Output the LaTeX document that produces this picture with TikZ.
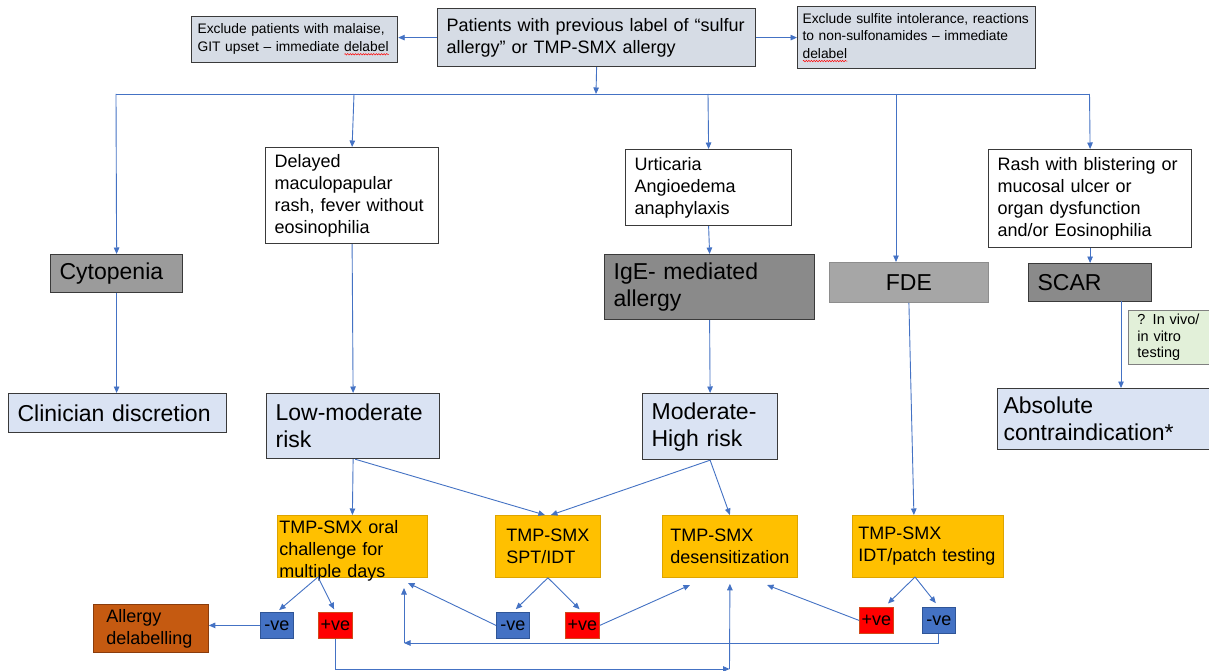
\documentclass[tikz,border=0pt]{standalone}
\usepackage{fontspec}
\setmainfont{Liberation Sans}
\usetikzlibrary{arrows.meta,decorations.pathmorphing}

\definecolor{arrblue}{HTML}{4472C4}
\definecolor{topfill}{HTML}{D6DCE5}
\definecolor{ltblue}{HTML}{DAE3F3}
\definecolor{boxline}{HTML}{3A3A3A}
\definecolor{cytofill}{HTML}{9B9B9B}
\definecolor{darkfill}{HTML}{8A8A8A}
\definecolor{fdefill}{HTML}{A6A6A6}
\definecolor{orfill}{HTML}{FFC000}
\definecolor{orline}{HTML}{DDA400}
\definecolor{negfill}{HTML}{4472C4}
\definecolor{negline}{HTML}{2F5597}
\definecolor{posfill}{HTML}{FF0000}
\definecolor{posline}{HTML}{D04A1A}
\definecolor{delfill}{HTML}{C55A11}
\definecolor{delline}{HTML}{8A3C0C}
\definecolor{greenfill}{HTML}{E2F0D9}

\newcommand\fsSmall{\fontsize{13.8}{17.5}\selectfont}
\newcommand\fsMed{\fontsize{18}{22}\selectfont}
\newcommand\fsBig{\fontsize{23}{27}\selectfont}
\newcommand\fsGreen{\fontsize{14.5}{16.7}\selectfont}

% red wavy underline (spell check mark)
\newsavebox\spbox
\newdimen\spwd
\newcommand\spellerr[1]{\leavevmode\sbox\spbox{#1}\spwd=\wd\spbox
  \rlap{\tikz[baseline=0pt]\draw[red,line width=0.5pt,decorate,decoration={snake,amplitude=0.7pt,segment length=2.6pt}] (0pt,-2.8pt) -- (\spwd,-2.8pt);}\usebox\spbox}

\begin{document}
\begin{tikzpicture}[x=1pt,y=-1pt]

    \tikzset{box/.style={draw=boxline,line width=1.2pt,anchor=north west,align=left,inner xsep=9pt,inner ysep=2pt,font=\fsMed},
             orbox/.style={box,draw=orline,line width=0.8pt,fill=orfill},
             res/.style={anchor=north west,inner sep=0pt,minimum width=33pt,minimum height=26pt,font=\fsMed,line width=0.8pt},
             arr/.style={-{Triangle[length=6.5pt,width=5.5pt]}}}

    \fill[white] (0,0) rectangle (1209,671);
    \useasboundingbox (0,0) rectangle (1209,671);
    \clip (0,0) rectangle (1209,671);

    \node[box,fill=topfill,text width=300pt,minimum height=58pt] (top) at (437,8) {Patients with previous label of “sulfur\\allergy” or TMP-SMX allergy};
    \node[box,fill=topfill,font=\fsSmall,text width=194pt,inner xsep=6pt,minimum height=46pt] (exL) at (191,16) {Exclude patients with malaise,\\GIT upset – immediate \spellerr{delabel}};
    \node[box,fill=topfill,font=\fsSmall,text width=228pt,inner xsep=5pt,minimum height=62pt] (exR) at (797,6) {Exclude sulfite intolerance, reactions\\to non-sulfonamides – immediate\\\spellerr{delabel}};

    \node[box,fill=cytofill,font=\fsBig,text width=114pt,minimum height=38pt] (cyto) at (50,254) {Cytopenia};
    \node[box,fill=ltblue,font=\fsBig,text width=200pt,minimum height=39pt] (clin) at (8,393) {Clinician discretion};

    \node[box,fill=white,text width=155pt,minimum height=96pt] (delay) at (265,147) {Delayed\\maculopapular\\rash, fever without\\eosinophilia};
    \node[box,fill=ltblue,font=\fsBig,text width=155pt,minimum height=65pt] (low) at (266,393) {Low-moderate\\risk};

    \node[box,fill=white,text width=148pt,minimum height=76pt] (urt) at (625,149) {Urticaria\\Angioedema\\anaphylaxis};
    \node[box,fill=darkfill,font=\fsBig,text width=192pt,minimum height=65pt] (ige) at (604,254) {IgE- mediated\\allergy};
    \node[box,fill=ltblue,font=\fsBig,text width=117pt,minimum height=66pt] (mod) at (642,393) {Moderate-\\High risk};

    \node[box,fill=fdefill,draw=fdefill!85!black,line width=0.8pt,font=\fsBig,align=center,text width=141pt,minimum height=40pt] (fde) at (829,262) {FDE};

    \node[box,fill=white,text width=185pt,minimum height=98pt] (rash) at (988,149) {Rash with blistering or\\mucosal ulcer or\\organ dysfunction\\and/or Eosinophilia};
    \node[box,fill=darkfill,font=\fsBig,text width=105pt,minimum height=38pt] (scar) at (1028,263) {SCAR};
    \node[box,fill=greenfill,draw=gray,line width=0.8pt,font=\fsGreen,text width=70pt,minimum height=54pt] (vitro) at (1128,310) {? In vivo/\\in vitro\\testing};
    \node[box,fill=ltblue,font=\fsBig,text width=212pt,inner xsep=6pt,minimum height=61pt] (abs) at (997,388) {Absolute\\contraindication*};

    % tests
    \node[orbox,text width=146pt,inner xsep=2pt,inner ysep=3pt,text height=15pt,text depth=41pt] (oral) at (277,515) {TMP-SMX oral\\challenge for\\multiple days};
    \node[orbox,text width=83pt,inner xsep=11pt,minimum height=62pt] (spt) at (495,515) {TMP-SMX\\SPT/IDT};
    \node[orbox,text width=119pt,inner xsep=8pt,minimum height=62pt] (des) at (662,515) {TMP-SMX\\desensitization};
    \node[orbox,text width=139pt,inner xsep=6pt,minimum height=62pt] (idt) at (852,515) {TMP-SMX\\IDT/patch testing};

    % results
    \node[res,fill=negfill,draw=negline] (ng1) at (260,612) {-ve};
    \node[res,fill=posfill,draw=posline,minimum width=34pt] (ps1) at (318,612) {+ve};
    \node[res,fill=negfill,draw=negline] (ng2) at (496,612) {-ve};
    \node[res,fill=posfill,draw=posline,minimum width=34pt] (ps2) at (565,612) {+ve};
    \node[res,fill=posfill,draw=posline,minimum width=34pt] (ps3) at (859,607) {+ve};
    \node[res,fill=negfill,draw=negline] (ng3) at (922,607) {-ve};
    \node[box,fill=delfill,draw=delline,line width=0.8pt,text width=89pt,inner xsep=13pt,minimum height=48pt] (delab) at (93,604) {Allergy\\delabelling};

    % puntos auxiliares
    \coordinate (hub) at (596,94);
    \coordinate (hl) at (116,94);
    \coordinate (hr) at (1089.5,94);
    \coordinate (b2) at (354,94);
    \coordinate (b3) at (708,94);
    \coordinate (b4) at (896,94);
    \coordinate (scarOut) at (1121,301);
    \coordinate (oralOut) at (318,577);
    \coordinate (idtOut) at (915,577);
    \coordinate (oralIn) at (408,583);
    \coordinate (oralIn2) at (404,588);
    \coordinate (desIn1) at (690,585);
    \coordinate (desIn2) at (767,585);
    \coordinate (loopA) at (404,643);
    \coordinate (loopB) at (729.5,669);

    \begin{scope}[every path/.style={draw=arrblue,line width=0.9pt}]
        \draw[arr] (top.west) -- (top.west -| exL.east);
        \draw[arr] (top.east) -- (top.east -| exR.west);
        \draw[arr] (top.south) -- (hub);
        \draw (hl) -- (hr);
        \draw[arr] (hl) -- (cyto.north);
        \draw[arr] (b2) -- (delay.north);
        \draw[arr] (b3) -- (urt.north);
        \draw[arr] (b4) -- (b4 |- fde.north);
        \draw[arr] (hr) -- (rash.north);

        \draw[arr] (cyto.south) -- (cyto.south |- clin.north);
        \draw[arr] (delay.south) -- (low.north);
        \draw[arr] (urt.south) -- (ige.north);
        \draw[arr] (ige.south) -- (mod.north);
        \draw[arr] (rash.south) -- (scar.north);
        \draw[arr] (scarOut) -- (scarOut |- abs.north);
        \draw[arr] (fde.south) -- ([xshift=-14pt]idt.north);

        \draw[arr] (low.south) -- (oral.north);
        \draw[arr] ([xshift=2pt]low.south) -- ([xshift=-3pt]spt.north);
        \draw[arr] (mod.south) -- ([xshift=3pt]spt.north);
        \draw[arr] (mod.south) -- (des.north);

        \draw[arr,shorten >=3pt] (oralOut) -- (ng1.north);
        \draw[arr,shorten >=3pt] (oralOut) -- (ps1.north);
        \draw[arr] (ng1.west) -- (ng1.west -| delab.east);
        \draw[arr,shorten >=4pt] (spt.south) -- (ng2.north);
        \draw[arr,shorten >=4pt] (spt.south) -- (ps2.north);
        \draw[arr] (ng2.west) -- (oralIn);
        \draw[arr] (ps2.east) -- (desIn1);
        \draw[arr,shorten >=5pt] (idtOut) -- ([xshift=8pt]ps3.north);
        \draw[arr,shorten >=5pt] (idtOut) -- (ng3.north);
        \draw[arr] (ps3.west) -- (desIn2);
        \draw[arr] (ng3.south) |- (loopA);
        \draw[arr] (loopA) -- (oralIn2);
        \draw[arr] (ps1.south) |- (loopB);
        \draw[arr] (loopB) -- ([yshift=-6pt]des.south);
    \end{scope}

\end{tikzpicture}
\end{document}
